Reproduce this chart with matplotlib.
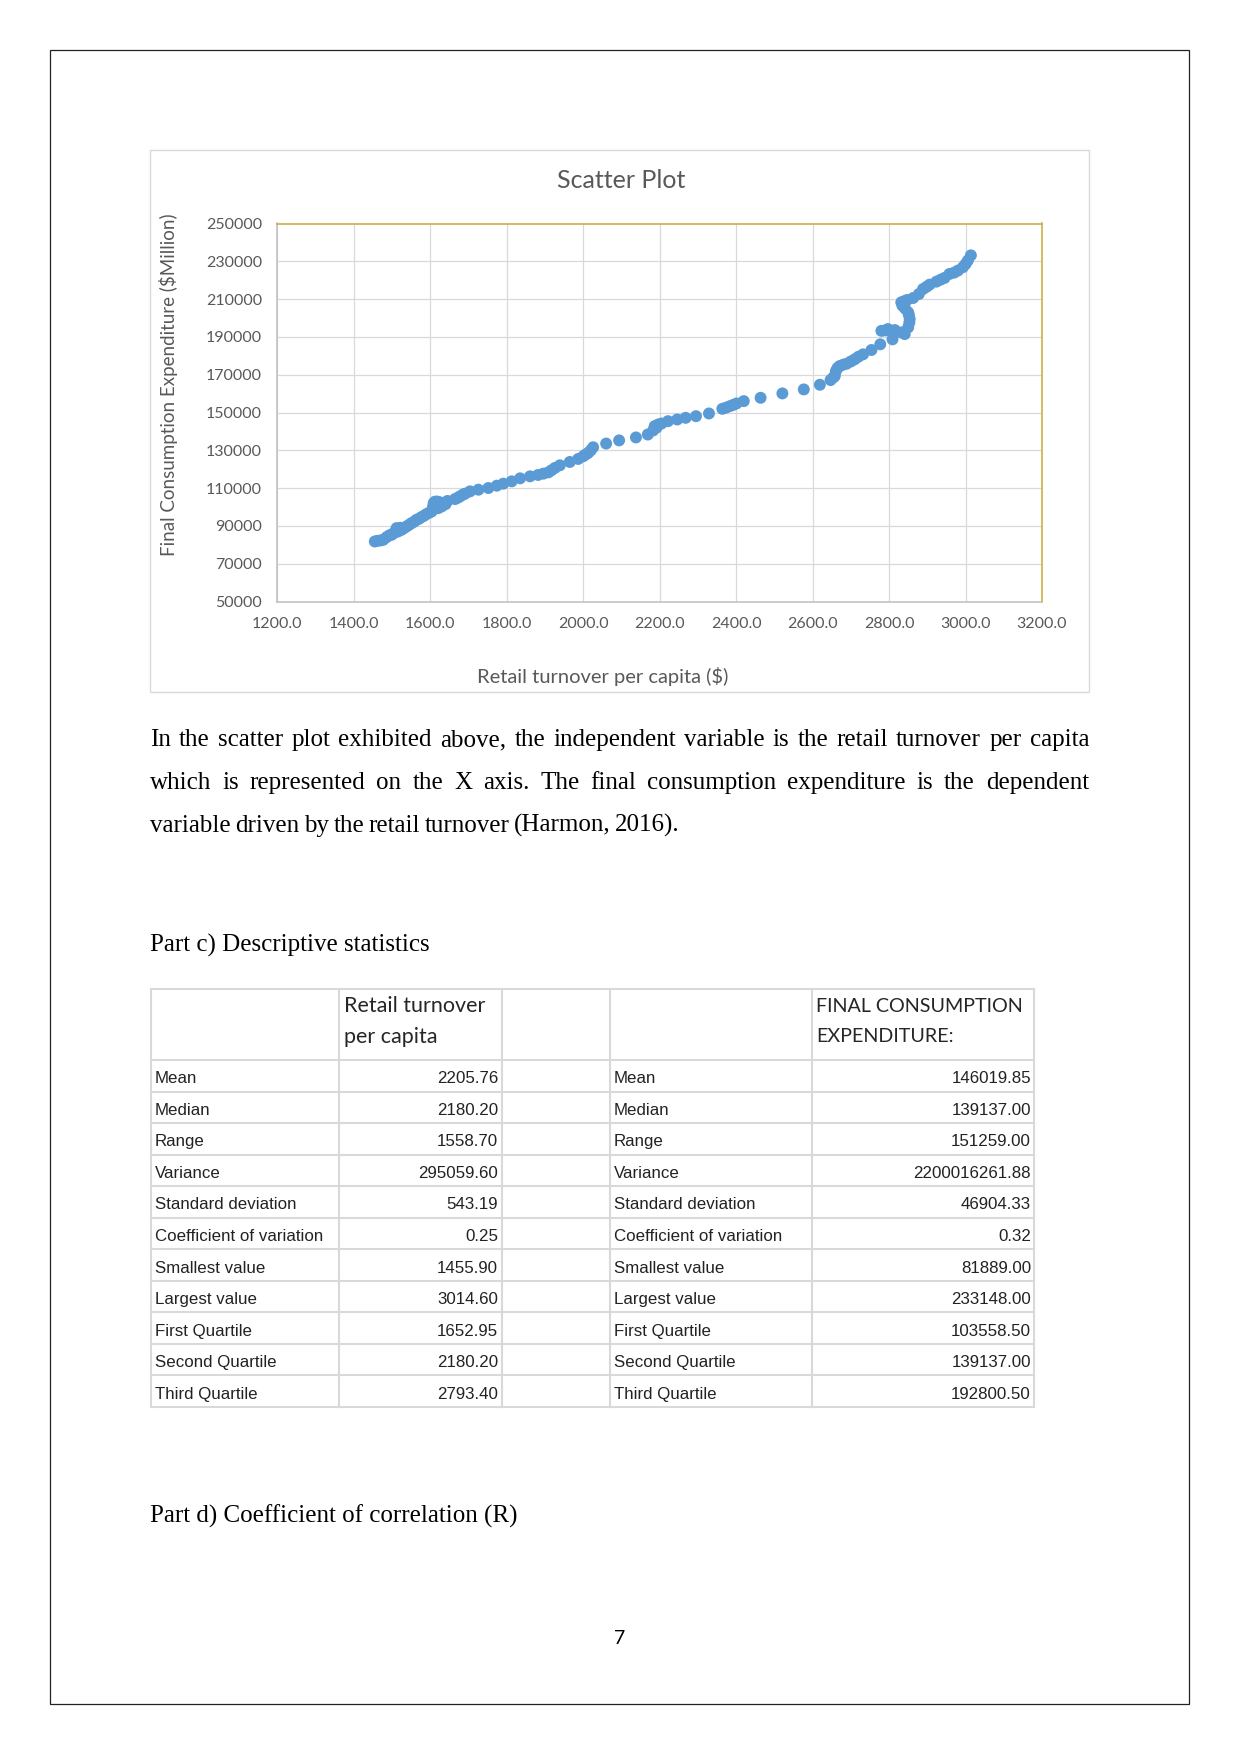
import matplotlib.pyplot as plt
from matplotlib.patches import Rectangle

# puntos: retail turnover per capita ($) y final consumption expenditure ($Million)
retail = [1455, 1462, 1470, 1477, 1486, 1493, 1499, 1505, 1510, 1512, 1516, 1522, 1525, 1532, 1538,
          1545, 1551, 1558, 1564, 1571, 1577, 1584, 1590, 1597, 1604, 1606, 1608, 1609, 1612, 1618,
          1625, 1632, 1640, 1621, 1630, 1645, 1665, 1672, 1678, 1685, 1691, 1704, 1726, 1752, 1774,
          1791, 1813, 1835, 1861, 1882, 1896, 1909, 1917, 1926, 1939, 1965, 1987, 2000, 2006, 2013,
          2020, 2026, 2060, 2094, 2138, 2169, 2183, 2187, 2192, 2196, 2205, 2222, 2246, 2268, 2295,
          2329, 2364, 2374, 2384, 2392, 2401, 2420, 2464, 2521, 2577, 2619, 2647, 2654, 2658, 2661,
          2665, 2671, 2680, 2689, 2700, 2710, 2720, 2732, 2754, 2777, 2809, 2780, 2790, 2797, 2806,
          2815, 2832, 2841, 2850, 2853, 2854, 2852, 2850, 2842, 2835, 2832, 2840, 2847, 2863, 2878,
          2889, 2898, 2906, 2924, 2935, 2945, 2958, 2970, 2980, 2993, 3000, 3006, 3014]
consumo = [81750, 82100, 82300, 82640, 84050, 85000, 85290, 86200, 87500, 88830, 87060, 89000, 87940,
           88900, 89710, 90600, 91480, 92200, 93250, 93800, 94660, 95400, 96250, 96900, 97670, 99000,
           100500, 102000, 102800, 102900, 102500, 102000, 101500, 99400, 100300, 103200, 104210,
           104900, 105620, 106500, 107040, 108270, 109160, 110040, 111280, 112340, 113580, 115170,
           116230, 116940, 117650, 118350, 119410, 120650, 122060, 123830, 125420, 126840, 127700,
           128610, 130000, 131610, 133560, 135250, 136800, 138340, 140500, 142760, 142000, 143640,
           144170, 145410, 146300, 147180, 148060, 149480, 151950, 152600, 153370, 154000, 154780,
           156020, 157780, 160090, 162210, 164680, 167160, 168500, 169280, 171930, 173500, 174580,
           175300, 175820, 177000, 178120, 179500, 180770, 183070, 186080, 188720, 193200, 193400,
           194140, 193100, 193610, 192370, 191490, 195030, 197500, 199440, 201500, 202980, 205000,
           206520, 208290, 208900, 209520, 210580, 212700, 215350, 216500, 217650, 219250, 220300,
           221190, 223310, 224000, 225080, 226850, 228500, 230380, 233148]

xticks = [1200, 1400, 1600, 1800, 2000, 2200, 2400, 2600, 2800, 3000, 3200]
yticks = [50000, 70000, 90000, 110000, 130000, 150000, 170000, 190000, 210000, 230000, 250000]

filas = ['Mean', 'Median', 'Range', 'Variance', 'Standard deviation', 'Coefficient of variation',
         'Smallest value', 'Largest value', 'First Quartile', 'Second Quartile', 'Third Quartile']
est_retail = ['2205.76', '2180.20', '1558.70', '295059.60', '543.19', '0.25',
              '1455.90', '3014.60', '1652.95', '2180.20', '2793.40']
est_consumo = ['146019.85', '139137.00', '151259.00', '2200016261.88', '46904.33', '0.32',
               '81889.00', '233148.00', '103558.50', '139137.00', '192800.50']

W, H = 1241, 1754
fig = plt.figure(figsize=(W / 100, H / 100), dpi=100)

# capa de pagina en pixeles
pg = fig.add_axes([0, 0, 1, 1], zorder=0)
pg.set_xlim(0, W)
pg.set_ylim(H, 0)
pg.axis('off')
pg.add_patch(Rectangle((50, 50), 1139, 1654, fill=False, ec='#222222', lw=0.9))
pg.add_patch(Rectangle((150, 150), 939, 542, fill=False, ec='#d9d9d9', lw=1))

# grafico
x0, x1, y0, y1 = 277.3, 1042, 223.5, 601.5
ax = fig.add_axes([x0 / W, 1 - y1 / H, (x1 - x0) / W, (y1 - y0) / H], zorder=1)
ax.scatter(retail, consumo, s=74, color='#5b9bd5', edgecolors='none', zorder=3)
ax.set_xlim(1200, 3200)
ax.set_ylim(50000, 250000)
ax.set_xticks(xticks)
ax.set_yticks(yticks)
ax.set_xticklabels(['%.1f' % v for v in xticks])
ax.set_yticklabels([str(v) for v in yticks])
ax.grid(True, color='#d9d9d9', lw=0.9, zorder=0)
ax.tick_params(length=0, labelsize=11.5, labelcolor='#595959', pad=11)
for lab in ax.get_xticklabels() + ax.get_yticklabels():
    lab.set_family('Lato')
ax.spines['left'].set_color('#bfbfbf')
ax.spines['bottom'].set_color('#bfbfbf')
ax.spines['top'].set_color('#c9a93a')
ax.spines['right'].set_color('#c9a93a')
for s in ax.spines.values():
    s.set_linewidth(1.1)

pg.text(621, 181, 'Scatter Plot', fontsize=18, family='Lato', color='#595959', ha='center', va='center')
pg.text(603, 677, 'Retail turnover per capita ($)', fontsize=14.5, family='Lato', color='#595959',
        ha='center', va='center')
pg.text(168, 385, 'Final Consumption Expenditure ($Million)', fontsize=13.5, family='Lato',
        color='#595959', ha='center', va='center', rotation=90)

# parrafo justificado
r = fig.canvas.get_renderer()


def linea(texto, y, justificar=True):
    palabras = texto.split()
    objs = [pg.text(0, y, p, fontsize=18, family='Liberation Serif', va='baseline', color='black')
            for p in palabras]
    anchos = [o.get_window_extent(r).width for o in objs]
    if justificar:
        hueco = (939 - sum(anchos)) / (len(palabras) - 1)
    else:
        hueco = 4.5
    x = 150
    for o, a in zip(objs, anchos):
        o.set_x(x)
        x += a + hueco


linea('In the scatter plot exhibited above, the independent variable is the retail turnover per capita', 746)
linea('which is represented on the X axis. The final consumption expenditure is the dependent', 789)
linea('variable driven by the retail turnover (Harmon, 2016).', 832, justificar=False)

pg.text(150, 952, 'Part c) Descriptive statistics', fontsize=18, family='Liberation Serif', va='baseline')
pg.text(150, 1523, 'Part d) Coefficient of correlation (R)', fontsize=18, family='Liberation Serif',
        va='baseline')
pg.text(620, 1639, '7', fontsize=14, family='Lato', ha='center', va='center')

# tabla
cols = [151, 339, 502, 610, 812, 1034]
top, cab = 989, 1060
alto = (1407 - cab) / len(filas)
gris = '#d9d9d9'
for c in cols:
    pg.plot([c, c], [top, 1407], color=gris, lw=1.5)
pg.plot([151, 1034], [top, top], color=gris, lw=1.5)
for i in range(len(filas) + 1):
    yy = cab + i * alto
    pg.plot([151, 1034], [yy, yy], color=gris, lw=1.5)

kh = dict(fontsize=15.5, family='Lato', color='#262626', va='center')
pg.text(344, 1006, 'Retail turnover', **kh)
pg.text(344, 1037, 'per capita', **kh)
kh['fontsize'] = 14.2
pg.text(816, 1006, 'FINAL CONSUMPTION', **kh)
pg.text(816, 1037, 'EXPENDITURE:', **kh)

for i, (f, a, b) in enumerate(zip(filas, est_retail, est_consumo)):
    yy = cab + (i + 0.5) * alto + 3
    kw = dict(fontsize=12.2, family='Liberation Sans', color='#222222', va='center')
    pg.text(155, yy, f, ha='left', **kw)
    pg.text(498, yy, a, ha='right', **kw)
    pg.text(614, yy, f, ha='left', **kw)
    pg.text(1031, yy, b, ha='right', **kw)

fig.savefig('out.png', dpi=100)
